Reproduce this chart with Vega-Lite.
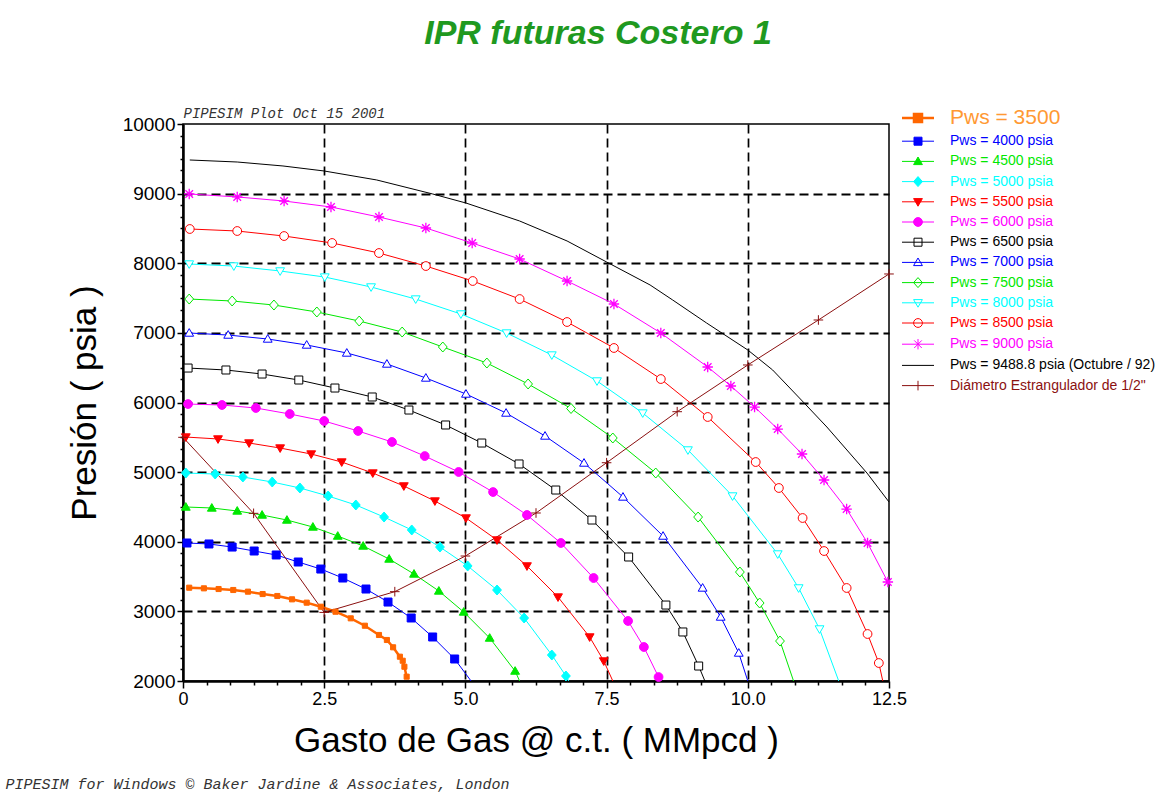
{
  "$schema": "https://vega.github.io/schema/vega-lite/v6.json",
  "width": 706,
  "height": 557,
  "autosize": {"type": "none"},
  "padding": {"left": 183, "top": 124, "right": 287, "bottom": 116},
  "background": "white",
  "title": {
    "text": "IPR futuras Costero 1",
    "font": "Liberation Sans",
    "fontSize": 34,
    "fontStyle": "italic",
    "fontWeight": "bold",
    "color": "#1f991f",
    "anchor": "middle",
    "dx": 62,
    "offset": 55
  },
  "config": {
    "view": {"stroke": "black", "strokeWidth": 1.5},
    "font": "Liberation Sans"
  },
  "data": {
    "values": [
      {"s": "Pws = 3500", "q": 0.11, "p": 3340, "m": 1},
      {"s": "Pws = 3500", "q": 0.37, "p": 3331, "m": 1},
      {"s": "Pws = 3500", "q": 0.63, "p": 3321, "m": 1},
      {"s": "Pws = 3500", "q": 0.89, "p": 3307, "m": 1},
      {"s": "Pws = 3500", "q": 1.15, "p": 3283, "m": 1},
      {"s": "Pws = 3500", "q": 1.41, "p": 3249, "m": 1},
      {"s": "Pws = 3500", "q": 1.67, "p": 3221, "m": 1},
      {"s": "Pws = 3500", "q": 1.93, "p": 3173, "m": 1},
      {"s": "Pws = 3500", "q": 2.19, "p": 3125, "m": 1},
      {"s": "Pws = 3500", "q": 2.44, "p": 3067, "m": 1},
      {"s": "Pws = 3500", "q": 2.70, "p": 2995, "m": 1},
      {"s": "Pws = 3500", "q": 2.97, "p": 2900, "m": 1},
      {"s": "Pws = 3500", "q": 3.22, "p": 2794, "m": 1},
      {"s": "Pws = 3500", "q": 3.47, "p": 2661, "m": 1},
      {"s": "Pws = 3500", "q": 3.61, "p": 2589, "m": 1},
      {"s": "Pws = 3500", "q": 3.72, "p": 2484, "m": 1},
      {"s": "Pws = 3500", "q": 3.84, "p": 2349, "m": 1},
      {"s": "Pws = 3500", "q": 3.89, "p": 2291, "m": 1},
      {"s": "Pws = 3500", "q": 3.92, "p": 2205, "m": 1},
      {"s": "Pws = 3500", "q": 3.96, "p": 2062, "m": 1},

      {"s": "Pws = 4000 psia", "q": 0.07, "p": 3982, "m": 1},
      {"s": "Pws = 4000 psia", "q": 0.46, "p": 3968, "m": 1},
      {"s": "Pws = 4000 psia", "q": 0.87, "p": 3924, "m": 1},
      {"s": "Pws = 4000 psia", "q": 1.26, "p": 3867, "m": 1},
      {"s": "Pws = 4000 psia", "q": 1.65, "p": 3810, "m": 1},
      {"s": "Pws = 4000 psia", "q": 2.04, "p": 3709, "m": 1},
      {"s": "Pws = 4000 psia", "q": 2.44, "p": 3608, "m": 1},
      {"s": "Pws = 4000 psia", "q": 2.83, "p": 3479, "m": 1},
      {"s": "Pws = 4000 psia", "q": 3.24, "p": 3321, "m": 1},
      {"s": "Pws = 4000 psia", "q": 3.63, "p": 3134, "m": 1},
      {"s": "Pws = 4000 psia", "q": 4.04, "p": 2905, "m": 1},
      {"s": "Pws = 4000 psia", "q": 4.42, "p": 2632, "m": 1},
      {"s": "Pws = 4000 psia", "q": 4.81, "p": 2316, "m": 1},
      {"s": "Pws = 4000 psia", "q": 5.10, "p": 2000, "m": 0},

      {"s": "Pws = 4500 psia", "q": 0.05, "p": 4499, "m": 1},
      {"s": "Pws = 4500 psia", "q": 0.51, "p": 4485, "m": 1},
      {"s": "Pws = 4500 psia", "q": 0.96, "p": 4442, "m": 1},
      {"s": "Pws = 4500 psia", "q": 1.40, "p": 4384, "m": 1},
      {"s": "Pws = 4500 psia", "q": 1.84, "p": 4312, "m": 1},
      {"s": "Pws = 4500 psia", "q": 2.30, "p": 4212, "m": 1},
      {"s": "Pws = 4500 psia", "q": 2.74, "p": 4082, "m": 1},
      {"s": "Pws = 4500 psia", "q": 3.19, "p": 3939, "m": 1},
      {"s": "Pws = 4500 psia", "q": 3.65, "p": 3752, "m": 1},
      {"s": "Pws = 4500 psia", "q": 4.09, "p": 3537, "m": 1},
      {"s": "Pws = 4500 psia", "q": 4.53, "p": 3293, "m": 1},
      {"s": "Pws = 4500 psia", "q": 4.97, "p": 2991, "m": 1},
      {"s": "Pws = 4500 psia", "q": 5.43, "p": 2617, "m": 1},
      {"s": "Pws = 4500 psia", "q": 5.88, "p": 2143, "m": 1},
      {"s": "Pws = 4500 psia", "q": 5.96, "p": 2000, "m": 0},

      {"s": "Pws = 5000 psia", "q": 0.05, "p": 4987, "m": 1},
      {"s": "Pws = 5000 psia", "q": 0.57, "p": 4973, "m": 1},
      {"s": "Pws = 5000 psia", "q": 1.06, "p": 4930, "m": 1},
      {"s": "Pws = 5000 psia", "q": 1.58, "p": 4858, "m": 1},
      {"s": "Pws = 5000 psia", "q": 2.07, "p": 4772, "m": 1},
      {"s": "Pws = 5000 psia", "q": 2.57, "p": 4657, "m": 1},
      {"s": "Pws = 5000 psia", "q": 3.06, "p": 4528, "m": 1},
      {"s": "Pws = 5000 psia", "q": 3.56, "p": 4355, "m": 1},
      {"s": "Pws = 5000 psia", "q": 4.05, "p": 4169, "m": 1},
      {"s": "Pws = 5000 psia", "q": 4.55, "p": 3924, "m": 1},
      {"s": "Pws = 5000 psia", "q": 5.04, "p": 3652, "m": 1},
      {"s": "Pws = 5000 psia", "q": 5.56, "p": 3307, "m": 1},
      {"s": "Pws = 5000 psia", "q": 6.04, "p": 2905, "m": 1},
      {"s": "Pws = 5000 psia", "q": 6.53, "p": 2373, "m": 1},
      {"s": "Pws = 5000 psia", "q": 6.78, "p": 2072, "m": 1},
      {"s": "Pws = 5000 psia", "q": 6.83, "p": 2000, "m": 0},

      {"s": "Pws = 5500 psia", "q": 0.05, "p": 5504, "m": 1},
      {"s": "Pws = 5500 psia", "q": 0.62, "p": 5476, "m": 1},
      {"s": "Pws = 5500 psia", "q": 1.17, "p": 5418, "m": 1},
      {"s": "Pws = 5500 psia", "q": 1.72, "p": 5346, "m": 1},
      {"s": "Pws = 5500 psia", "q": 2.27, "p": 5260, "m": 1},
      {"s": "Pws = 5500 psia", "q": 2.81, "p": 5145, "m": 1},
      {"s": "Pws = 5500 psia", "q": 3.36, "p": 4987, "m": 1},
      {"s": "Pws = 5500 psia", "q": 3.91, "p": 4801, "m": 1},
      {"s": "Pws = 5500 psia", "q": 4.46, "p": 4585, "m": 1},
      {"s": "Pws = 5500 psia", "q": 5.01, "p": 4341, "m": 1},
      {"s": "Pws = 5500 psia", "q": 5.56, "p": 4025, "m": 1},
      {"s": "Pws = 5500 psia", "q": 6.09, "p": 3652, "m": 1},
      {"s": "Pws = 5500 psia", "q": 6.64, "p": 3206, "m": 1},
      {"s": "Pws = 5500 psia", "q": 7.20, "p": 2632, "m": 1},
      {"s": "Pws = 5500 psia", "q": 7.45, "p": 2287, "m": 1},
      {"s": "Pws = 5500 psia", "q": 7.61, "p": 2000, "m": 0},

      {"s": "Pws = 6000 psia", "q": 0.09, "p": 5978, "m": 1},
      {"s": "Pws = 6000 psia", "q": 0.69, "p": 5964, "m": 1},
      {"s": "Pws = 6000 psia", "q": 1.29, "p": 5921, "m": 1},
      {"s": "Pws = 6000 psia", "q": 1.89, "p": 5835, "m": 1},
      {"s": "Pws = 6000 psia", "q": 2.50, "p": 5734, "m": 1},
      {"s": "Pws = 6000 psia", "q": 3.10, "p": 5591, "m": 1},
      {"s": "Pws = 6000 psia", "q": 3.70, "p": 5433, "m": 1},
      {"s": "Pws = 6000 psia", "q": 4.28, "p": 5231, "m": 1},
      {"s": "Pws = 6000 psia", "q": 4.88, "p": 5002, "m": 1},
      {"s": "Pws = 6000 psia", "q": 5.49, "p": 4714, "m": 1},
      {"s": "Pws = 6000 psia", "q": 6.09, "p": 4384, "m": 1},
      {"s": "Pws = 6000 psia", "q": 6.69, "p": 3982, "m": 1},
      {"s": "Pws = 6000 psia", "q": 7.27, "p": 3479, "m": 1},
      {"s": "Pws = 6000 psia", "q": 7.88, "p": 2862, "m": 1},
      {"s": "Pws = 6000 psia", "q": 8.16, "p": 2488, "m": 1},
      {"s": "Pws = 6000 psia", "q": 8.42, "p": 2057, "m": 1},
      {"s": "Pws = 6000 psia", "q": 8.47, "p": 2000, "m": 0},

      {"s": "Pws = 6500 psia", "q": 0.09, "p": 6495, "m": 1},
      {"s": "Pws = 6500 psia", "q": 0.76, "p": 6467, "m": 1},
      {"s": "Pws = 6500 psia", "q": 1.40, "p": 6409, "m": 1},
      {"s": "Pws = 6500 psia", "q": 2.05, "p": 6323, "m": 1},
      {"s": "Pws = 6500 psia", "q": 2.69, "p": 6208, "m": 1},
      {"s": "Pws = 6500 psia", "q": 3.35, "p": 6079, "m": 1},
      {"s": "Pws = 6500 psia", "q": 4.00, "p": 5892, "m": 1},
      {"s": "Pws = 6500 psia", "q": 4.65, "p": 5677, "m": 1},
      {"s": "Pws = 6500 psia", "q": 5.29, "p": 5418, "m": 1},
      {"s": "Pws = 6500 psia", "q": 5.95, "p": 5117, "m": 1},
      {"s": "Pws = 6500 psia", "q": 6.60, "p": 4743, "m": 1},
      {"s": "Pws = 6500 psia", "q": 7.24, "p": 4312, "m": 1},
      {"s": "Pws = 6500 psia", "q": 7.89, "p": 3781, "m": 1},
      {"s": "Pws = 6500 psia", "q": 8.55, "p": 3091, "m": 1},
      {"s": "Pws = 6500 psia", "q": 8.85, "p": 2704, "m": 1},
      {"s": "Pws = 6500 psia", "q": 9.13, "p": 2215, "m": 1},
      {"s": "Pws = 6500 psia", "q": 9.24, "p": 2000, "m": 0},

      {"s": "Pws = 7000 psia", "q": 0.11, "p": 6998, "m": 1},
      {"s": "Pws = 7000 psia", "q": 0.80, "p": 6969, "m": 1},
      {"s": "Pws = 7000 psia", "q": 1.50, "p": 6912, "m": 1},
      {"s": "Pws = 7000 psia", "q": 2.19, "p": 6826, "m": 1},
      {"s": "Pws = 7000 psia", "q": 2.90, "p": 6711, "m": 1},
      {"s": "Pws = 7000 psia", "q": 3.61, "p": 6553, "m": 1},
      {"s": "Pws = 7000 psia", "q": 4.30, "p": 6352, "m": 1},
      {"s": "Pws = 7000 psia", "q": 5.01, "p": 6122, "m": 1},
      {"s": "Pws = 7000 psia", "q": 5.72, "p": 5849, "m": 1},
      {"s": "Pws = 7000 psia", "q": 6.41, "p": 5519, "m": 1},
      {"s": "Pws = 7000 psia", "q": 7.10, "p": 5131, "m": 1},
      {"s": "Pws = 7000 psia", "q": 7.79, "p": 4643, "m": 1},
      {"s": "Pws = 7000 psia", "q": 8.50, "p": 4082, "m": 1},
      {"s": "Pws = 7000 psia", "q": 9.20, "p": 3336, "m": 1},
      {"s": "Pws = 7000 psia", "q": 9.52, "p": 2919, "m": 1},
      {"s": "Pws = 7000 psia", "q": 9.84, "p": 2402, "m": 1},
      {"s": "Pws = 7000 psia", "q": 10.00, "p": 2000, "m": 0},

      {"s": "Pws = 7500 psia", "q": 0.11, "p": 7486, "m": 1},
      {"s": "Pws = 7500 psia", "q": 0.87, "p": 7458, "m": 1},
      {"s": "Pws = 7500 psia", "q": 1.61, "p": 7400, "m": 1},
      {"s": "Pws = 7500 psia", "q": 2.37, "p": 7300, "m": 1},
      {"s": "Pws = 7500 psia", "q": 3.12, "p": 7170, "m": 1},
      {"s": "Pws = 7500 psia", "q": 3.88, "p": 7012, "m": 1},
      {"s": "Pws = 7500 psia", "q": 4.60, "p": 6797, "m": 1},
      {"s": "Pws = 7500 psia", "q": 5.38, "p": 6567, "m": 1},
      {"s": "Pws = 7500 psia", "q": 6.11, "p": 6266, "m": 1},
      {"s": "Pws = 7500 psia", "q": 6.87, "p": 5914, "m": 1},
      {"s": "Pws = 7500 psia", "q": 7.61, "p": 5490, "m": 1},
      {"s": "Pws = 7500 psia", "q": 8.37, "p": 4987, "m": 1},
      {"s": "Pws = 7500 psia", "q": 9.12, "p": 4355, "m": 1},
      {"s": "Pws = 7500 psia", "q": 9.86, "p": 3565, "m": 1},
      {"s": "Pws = 7500 psia", "q": 10.21, "p": 3120, "m": 1},
      {"s": "Pws = 7500 psia", "q": 10.57, "p": 2574, "m": 1},
      {"s": "Pws = 7500 psia", "q": 10.81, "p": 2000, "m": 0},

      {"s": "Pws = 8000 psia", "q": 0.11, "p": 7989, "m": 1},
      {"s": "Pws = 8000 psia", "q": 0.90, "p": 7960, "m": 1},
      {"s": "Pws = 8000 psia", "q": 1.72, "p": 7889, "m": 1},
      {"s": "Pws = 8000 psia", "q": 2.51, "p": 7802, "m": 1},
      {"s": "Pws = 8000 psia", "q": 3.33, "p": 7659, "m": 1},
      {"s": "Pws = 8000 psia", "q": 4.12, "p": 7486, "m": 1},
      {"s": "Pws = 8000 psia", "q": 4.92, "p": 7271, "m": 1},
      {"s": "Pws = 8000 psia", "q": 5.73, "p": 6998, "m": 1},
      {"s": "Pws = 8000 psia", "q": 6.53, "p": 6682, "m": 1},
      {"s": "Pws = 8000 psia", "q": 7.33, "p": 6309, "m": 1},
      {"s": "Pws = 8000 psia", "q": 8.14, "p": 5849, "m": 1},
      {"s": "Pws = 8000 psia", "q": 8.94, "p": 5318, "m": 1},
      {"s": "Pws = 8000 psia", "q": 9.73, "p": 4657, "m": 1},
      {"s": "Pws = 8000 psia", "q": 10.53, "p": 3824, "m": 1},
      {"s": "Pws = 8000 psia", "q": 10.90, "p": 3336, "m": 1},
      {"s": "Pws = 8000 psia", "q": 11.27, "p": 2747, "m": 1},
      {"s": "Pws = 8000 psia", "q": 11.61, "p": 2000, "m": 0},

      {"s": "Pws = 8500 psia", "q": 0.12, "p": 8492, "m": 1},
      {"s": "Pws = 8500 psia", "q": 0.96, "p": 8463, "m": 1},
      {"s": "Pws = 8500 psia", "q": 1.79, "p": 8391, "m": 1},
      {"s": "Pws = 8500 psia", "q": 2.64, "p": 8291, "m": 1},
      {"s": "Pws = 8500 psia", "q": 3.47, "p": 8147, "m": 1},
      {"s": "Pws = 8500 psia", "q": 4.30, "p": 7960, "m": 1},
      {"s": "Pws = 8500 psia", "q": 5.13, "p": 7745, "m": 1},
      {"s": "Pws = 8500 psia", "q": 5.96, "p": 7486, "m": 1},
      {"s": "Pws = 8500 psia", "q": 6.80, "p": 7156, "m": 1},
      {"s": "Pws = 8500 psia", "q": 7.63, "p": 6783, "m": 1},
      {"s": "Pws = 8500 psia", "q": 8.46, "p": 6337, "m": 1},
      {"s": "Pws = 8500 psia", "q": 9.29, "p": 5792, "m": 1},
      {"s": "Pws = 8500 psia", "q": 10.14, "p": 5145, "m": 1},
      {"s": "Pws = 8500 psia", "q": 10.55, "p": 4772, "m": 1},
      {"s": "Pws = 8500 psia", "q": 10.97, "p": 4341, "m": 1},
      {"s": "Pws = 8500 psia", "q": 11.35, "p": 3867, "m": 1},
      {"s": "Pws = 8500 psia", "q": 11.75, "p": 3336, "m": 1},
      {"s": "Pws = 8500 psia", "q": 12.12, "p": 2675, "m": 1},
      {"s": "Pws = 8500 psia", "q": 12.32, "p": 2258, "m": 1},
      {"s": "Pws = 8500 psia", "q": 12.39, "p": 2000, "m": 0},

      {"s": "Pws = 9000 psia", "q": 0.11, "p": 8995, "m": 1},
      {"s": "Pws = 9000 psia", "q": 0.96, "p": 8952, "m": 1},
      {"s": "Pws = 9000 psia", "q": 1.79, "p": 8894, "m": 1},
      {"s": "Pws = 9000 psia", "q": 2.62, "p": 8808, "m": 1},
      {"s": "Pws = 9000 psia", "q": 3.47, "p": 8664, "m": 1},
      {"s": "Pws = 9000 psia", "q": 4.30, "p": 8506, "m": 1},
      {"s": "Pws = 9000 psia", "q": 5.12, "p": 8291, "m": 1},
      {"s": "Pws = 9000 psia", "q": 5.96, "p": 8061, "m": 1},
      {"s": "Pws = 9000 psia", "q": 6.80, "p": 7745, "m": 1},
      {"s": "Pws = 9000 psia", "q": 7.63, "p": 7415, "m": 1},
      {"s": "Pws = 9000 psia", "q": 8.46, "p": 6998, "m": 1},
      {"s": "Pws = 9000 psia", "q": 9.29, "p": 6510, "m": 1},
      {"s": "Pws = 9000 psia", "q": 9.70, "p": 6237, "m": 1},
      {"s": "Pws = 9000 psia", "q": 10.12, "p": 5935, "m": 1},
      {"s": "Pws = 9000 psia", "q": 10.53, "p": 5619, "m": 1},
      {"s": "Pws = 9000 psia", "q": 10.96, "p": 5260, "m": 1},
      {"s": "Pws = 9000 psia", "q": 11.35, "p": 4887, "m": 1},
      {"s": "Pws = 9000 psia", "q": 11.75, "p": 4470, "m": 1},
      {"s": "Pws = 9000 psia", "q": 12.12, "p": 3982, "m": 1},
      {"s": "Pws = 9000 psia", "q": 12.48, "p": 3422, "m": 1},

      {"s": "Pws = 9488.8 psia (Octubre / 92)", "q": 0.12, "p": 9483, "m": 0},
      {"s": "Pws = 9488.8 psia (Octubre / 92)", "q": 0.96, "p": 9454, "m": 0},
      {"s": "Pws = 9488.8 psia (Octubre / 92)", "q": 1.77, "p": 9397, "m": 0},
      {"s": "Pws = 9488.8 psia (Octubre / 92)", "q": 2.50, "p": 9325, "m": 0},
      {"s": "Pws = 9488.8 psia (Octubre / 92)", "q": 3.43, "p": 9196, "m": 0},
      {"s": "Pws = 9488.8 psia (Octubre / 92)", "q": 4.42, "p": 8995, "m": 0},
      {"s": "Pws = 9488.8 psia (Octubre / 92)", "q": 5.01, "p": 8865, "m": 0},
      {"s": "Pws = 9488.8 psia (Octubre / 92)", "q": 5.96, "p": 8607, "m": 0},
      {"s": "Pws = 9488.8 psia (Octubre / 92)", "q": 6.80, "p": 8320, "m": 0},
      {"s": "Pws = 9488.8 psia (Octubre / 92)", "q": 7.50, "p": 8018, "m": 0},
      {"s": "Pws = 9488.8 psia (Octubre / 92)", "q": 8.27, "p": 7688, "m": 0},
      {"s": "Pws = 9488.8 psia (Octubre / 92)", "q": 8.67, "p": 7472, "m": 0},
      {"s": "Pws = 9488.8 psia (Octubre / 92)", "q": 9.27, "p": 7142, "m": 0},
      {"s": "Pws = 9488.8 psia (Octubre / 92)", "q": 10.00, "p": 6754, "m": 0},
      {"s": "Pws = 9488.8 psia (Octubre / 92)", "q": 10.44, "p": 6467, "m": 0},
      {"s": "Pws = 9488.8 psia (Octubre / 92)", "q": 10.99, "p": 6000, "m": 0},
      {"s": "Pws = 9488.8 psia (Octubre / 92)", "q": 11.40, "p": 5648, "m": 0},
      {"s": "Pws = 9488.8 psia (Octubre / 92)", "q": 12.11, "p": 4987, "m": 0},
      {"s": "Pws = 9488.8 psia (Octubre / 92)", "q": 12.50, "p": 4571, "m": 0},

      {"s": "Diámetro Estrangulador de 1/2\"", "q": 0.0, "p": 5500, "m": 1},
      {"s": "Diámetro Estrangulador de 1/2\"", "q": 1.25, "p": 4408, "m": 1},
      {"s": "Diámetro Estrangulador de 1/2\"", "q": 2.5, "p": 2985, "m": 1},
      {"s": "Diámetro Estrangulador de 1/2\"", "q": 3.75, "p": 3283, "m": 1},
      {"s": "Diámetro Estrangulador de 1/2\"", "q": 5.0, "p": 3795, "m": 1},
      {"s": "Diámetro Estrangulador de 1/2\"", "q": 6.25, "p": 4413, "m": 1},
      {"s": "Diámetro Estrangulador de 1/2\"", "q": 7.5, "p": 5135, "m": 1},
      {"s": "Diámetro Estrangulador de 1/2\"", "q": 8.75, "p": 5868, "m": 1},
      {"s": "Diámetro Estrangulador de 1/2\"", "q": 10.0, "p": 6539, "m": 1},
      {"s": "Diámetro Estrangulador de 1/2\"", "q": 11.25, "p": 7185, "m": 1},
      {"s": "Diámetro Estrangulador de 1/2\"", "q": 12.5, "p": 7846, "m": 1}
    ]
  },
  "resolve": {"axis": {"x": "independent", "y": "independent"}},
  "layer": [
    {
      "mark": {"type": "line", "interpolate": "linear"},
      "encoding": {
        "x": {
          "field": "q", "type": "quantitative",
          "scale": {"domain": [0, 12.5], "nice": false, "zero": false},
          "axis": {
            "values": [0, 0.41667, 0.83333, 1.25, 1.66667, 2.08333, 2.5, 2.91667, 3.33333, 3.75, 4.16667, 4.58333, 5, 5.41667, 5.83333, 6.25, 6.66667, 7.08333, 7.5, 7.91667, 8.33333, 8.75, 9.16667, 9.58333, 10, 10.41667, 10.83333, 11.25, 11.66667, 12.08333, 12.5],
            "labelExpr": "abs(datum.value/2.5 - round(datum.value/2.5)) < 0.001 ? (datum.value == 0 ? '0' : format(datum.value, '.1f')) : ''",
            "tickSize": {"condition": {"test": "abs(datum.value/2.5 - round(datum.value/2.5)) < 0.001", "value": 7}, "value": 4},
            "gridOpacity": {"condition": {"test": "abs(datum.value/2.5 - round(datum.value/2.5)) < 0.001 && datum.value > 0.1 && datum.value < 12.4", "value": 1}, "value": 0},
            "grid": true,
            "gridColor": "black", "gridDash": [9, 5], "gridWidth": 1.7,
            "domainColor": "black", "domainWidth": 2.5,
            "tickColor": "black", "tickWidth": 1.5,
            "labelFont": "Liberation Sans", "labelFontSize": 18, "labelColor": "black",
            "labelPadding": 2, "labelFlush": false, "labelOverlap": false,
            "title": "Gasto de Gas @ c.t. ( MMpcd )",
            "titleFont": "Liberation Sans", "titleFontSize": 35, "titleFontWeight": "normal", "titleColor": "black",
            "titlePadding": 15
          }
        },
        "y": {
          "field": "p", "type": "quantitative",
          "scale": {"domain": [2000, 10000], "nice": false, "zero": false},
          "axis": {
            "values": [2000, 2166.67, 2333.33, 2500, 2666.67, 2833.33, 3000, 3166.67, 3333.33, 3500, 3666.67, 3833.33, 4000, 4166.67, 4333.33, 4500, 4666.67, 4833.33, 5000, 5166.67, 5333.33, 5500, 5666.67, 5833.33, 6000, 6166.67, 6333.33, 6500, 6666.67, 6833.33, 7000, 7166.67, 7333.33, 7500, 7666.67, 7833.33, 8000, 8166.67, 8333.33, 8500, 8666.67, 8833.33, 9000, 9166.67, 9333.33, 9500, 9666.67, 9833.33, 10000],
            "labelExpr": "abs(datum.value/1000 - round(datum.value/1000)) < 0.001 ? format(datum.value, 'd') : ''",
            "tickSize": {"condition": {"test": "abs(datum.value/1000 - round(datum.value/1000)) < 0.001", "value": 6}, "value": 3},
            "gridOpacity": {"condition": {"test": "abs(datum.value/1000 - round(datum.value/1000)) < 0.001 && datum.value > 2100 && datum.value < 9900", "value": 1}, "value": 0},
            "grid": true,
            "gridColor": "black", "gridDash": [9, 5], "gridWidth": 2,
            "domainColor": "black", "domainWidth": 2.5,
            "tickColor": "black", "tickWidth": 1.5,
            "labelFont": "Liberation Sans", "labelFontSize": 19, "labelColor": "black",
            "labelPadding": 2, "labelOverlap": false,
            "title": "Presión ( psia )",
            "titleFont": "Liberation Sans", "titleFontSize": 35, "titleFontWeight": "normal", "titleColor": "black",
            "titlePadding": 20
          }
        },
        "color": {
          "field": "s", "type": "nominal",
          "scale": {
            "domain": ["Pws = 3500", "Pws = 4000 psia", "Pws = 4500 psia", "Pws = 5000 psia", "Pws = 5500 psia", "Pws = 6000 psia", "Pws = 6500 psia", "Pws = 7000 psia", "Pws = 7500 psia", "Pws = 8000 psia", "Pws = 8500 psia", "Pws = 9000 psia", "Pws = 9488.8 psia (Octubre / 92)", "Diámetro Estrangulador de 1/2\""],
            "range": ["#ff6600", "#0000ff", "#00e800", "#00ffff", "#ff0000", "#ff00ff", "#000000", "#0000ff", "#00e800", "#00ffff", "#ff0000", "#ff00ff", "#000000", "#8b1010"]
          },
          "legend": {
            "orient": "none",
            "legendX": 728,
            "legendY": -13,
            "title": null,
            "padding": 0,
            "symbolSize": 64,
            "symbolType": {"expr": "indexof(['Pws = 3500','Pws = 4000 psia','Pws = 6500 psia'], datum.value) >= 0 ? 'M-4,0H4M-1,-1H1V1H-1Z' : indexof(['Pws = 4500 psia','Pws = 7000 psia'], datum.value) >= 0 ? 'M-4,0H4M0,-1.1L1.1,0.8H-1.1Z' : indexof(['Pws = 5000 psia','Pws = 7500 psia'], datum.value) >= 0 ? 'M-4,0H4M0,-1.25L1.1,0L0,1.25L-1.1,0Z' : indexof(['Pws = 5500 psia','Pws = 8000 psia'], datum.value) >= 0 ? 'M-4,0H4M0,1.1L1.1,-0.8H-1.1Z' : indexof(['Pws = 6000 psia','Pws = 8500 psia'], datum.value) >= 0 ? 'M-4,0H4M1.1,0A1.1,1.1 0 1,1 -1.1,0A1.1,1.1 0 1,1 1.1,0Z' : datum.value == 'Pws = 9000 psia' ? 'M-4,0H4M0,-1.3V1.3M-0.95,-0.95L0.95,0.95M-0.95,0.95L0.95,-0.95' : datum.value == 'Pws = 9488.8 psia (Octubre / 92)' ? 'M-4,0H4' : 'M-4,0H4M0,-1.2V1.2'"},
            "symbolFillColor": {"expr": "indexof(['Pws = 3500','Pws = 4000 psia','Pws = 4500 psia','Pws = 5000 psia','Pws = 5500 psia','Pws = 6000 psia'], datum.value) >= 0 ? scale('color', datum.value) : 'white'"},
            "symbolStrokeColor": {"expr": "scale('color', datum.value)"},
            "symbolStrokeWidth": {"expr": "datum.value == 'Pws = 3500' ? 2.5 : 1"},
            "symbolOpacity": 1,
            "labelOffset": 25,
            "rowPadding": 6.2,
            "labelFont": "Liberation Sans",
            "labelFontSize": 14,
            "labelLimit": 400,
            "encode": {
              "symbols": {
                "update": {
                  "fill": {"signal": "indexof(['Pws = 3500','Pws = 4000 psia','Pws = 4500 psia','Pws = 5000 psia','Pws = 5500 psia','Pws = 6000 psia'], datum.value) >= 0 ? scale('color', datum.value) : 'white'"},
                  "strokeWidth": {"signal": "datum.value == 'Pws = 3500' ? 2.5 : 1"}
                }
              },
              "labels": {
                "update": {
                  "fill": {"signal": "datum.value == 'Pws = 3500' ? '#ff9933' : scale('color', datum.value)"},
                  "fontSize": {"signal": "datum.value == 'Pws = 3500' ? 21 : 14"}
                }
              }
            }
          }
        },
        "strokeWidth": {"condition": {"test": "datum.s == 'Pws = 3500'", "value": 2.5}, "value": 1}
      }
    },
    {
      "transform": [{"filter": "datum.m == 1"}],
      "mark": {"type": "point", "opacity": 1},
      "encoding": {
        "x": {
          "field": "q", "type": "quantitative",
          "axis": {"orient": "top", "domain": false, "ticks": false, "labels": false, "grid": false,
            "title": "PIPESIM Plot Oct 15 2001", "titleAnchor": "start", "titleFont": "Liberation Mono", "titleFontStyle": "italic",
            "titleFontWeight": "normal", "titleFontSize": 14, "titleColor": "#333333", "titlePadding": 4}
        },
        "y": {
          "field": "p", "type": "quantitative",
          "axis": {"orient": "right", "domain": false, "ticks": false, "labels": false, "grid": false,
            "title": "PIPESIM for Windows © Baker Jardine & Associates, London",
            "titleAngle": 0, "titleX": -884, "titleY": 664, "titleAlign": "left", "titleBaseline": "alphabetic",
            "titleFont": "Liberation Mono", "titleFontStyle": "italic", "titleFontWeight": "normal", "titleFontSize": 15, "titleColor": "#333333"}
        },
        "stroke": {
          "condition": [
            {"test": "datum.s == 'Pws = 3500'", "value": "#ff6600"},
            {"test": "datum.s == 'Pws = 4000 psia' || datum.s == 'Pws = 7000 psia'", "value": "#0000ff"},
            {"test": "datum.s == 'Pws = 4500 psia' || datum.s == 'Pws = 7500 psia'", "value": "#00e800"},
            {"test": "datum.s == 'Pws = 5000 psia' || datum.s == 'Pws = 8000 psia'", "value": "#00ffff"},
            {"test": "datum.s == 'Pws = 5500 psia' || datum.s == 'Pws = 8500 psia'", "value": "#ff0000"},
            {"test": "datum.s == 'Pws = 6000 psia' || datum.s == 'Pws = 9000 psia'", "value": "#ff00ff"},
            {"test": "datum.s == 'Pws = 6500 psia'", "value": "#000000"}
          ],
          "value": "#8b1010"
        },
        "fill": {
          "condition": [
            {"test": "datum.s == 'Pws = 3500'", "value": "#ff6600"},
            {"test": "datum.s == 'Pws = 4000 psia'", "value": "#0000ff"},
            {"test": "datum.s == 'Pws = 4500 psia'", "value": "#00e800"},
            {"test": "datum.s == 'Pws = 5000 psia'", "value": "#00ffff"},
            {"test": "datum.s == 'Pws = 5500 psia'", "value": "#ff0000"},
            {"test": "datum.s == 'Pws = 6000 psia'", "value": "#ff00ff"},
            {"test": "indexof(['Pws = 6500 psia','Pws = 7000 psia','Pws = 7500 psia','Pws = 8000 psia','Pws = 8500 psia'], datum.s) >= 0", "value": "white"}
          ],
          "value": "transparent"
        },
        "shape": {
          "condition": [
            {"test": "indexof(['Pws = 3500','Pws = 4000 psia','Pws = 6500 psia'], datum.s) >= 0", "value": "M-1,-1H1V1H-1Z"},
            {"test": "indexof(['Pws = 4500 psia','Pws = 7000 psia'], datum.s) >= 0", "value": "M0,-1.1L1.1,0.8H-1.1Z"},
            {"test": "indexof(['Pws = 5000 psia','Pws = 7500 psia'], datum.s) >= 0", "value": "M0,-1.25L1.1,0L0,1.25L-1.1,0Z"},
            {"test": "indexof(['Pws = 5500 psia','Pws = 8000 psia'], datum.s) >= 0", "value": "M0,1.1L1.1,-0.8H-1.1Z"},
            {"test": "indexof(['Pws = 6000 psia','Pws = 8500 psia'], datum.s) >= 0", "value": "M1.1,0A1.1,1.1 0 1,1 -1.1,0A1.1,1.1 0 1,1 1.1,0Z"},
            {"test": "datum.s == 'Pws = 9000 psia'", "value": "M-1.3,0H1.3M0,-1.3V1.3M-0.95,-0.95L0.95,0.95M-0.95,0.95L0.95,-0.95"}
          ],
          "value": "M-1.2,0H1.2M0,-1.2V1.2"
        },
        "size": {"condition": {"test": "datum.s == 'Pws = 3500'", "value": 26}, "value": 64},
        "strokeWidth": {"condition": {"test": "datum.s == 'Pws = 9000 psia'", "value": 1.3}, "value": 1}
      }
    }
  ]
}
